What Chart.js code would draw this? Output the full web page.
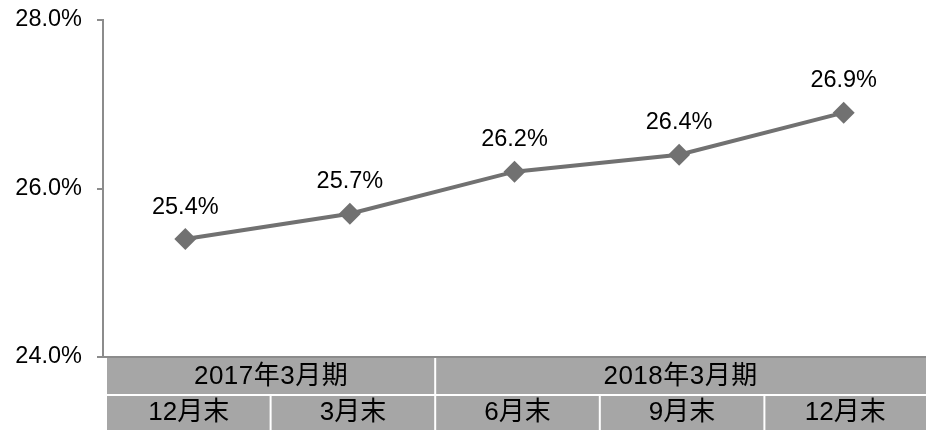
<!DOCTYPE html>
<html>
<head>
<meta charset="utf-8">
<script src="https://cdn.jsdelivr.net/npm/chart.js@4"></script>
<style>
  html, body { margin: 0; padding: 0; background: #fff; }
  #wrap { width: 926px; height: 430px; }
</style>
</head>
<body>
<div id="wrap"><canvas id="ratioChart" width="926" height="430"></canvas></div>
<script>
// quarter-end labels and the ratio (%) at each one
const months = ['12月末', '3月末', '6月末', '9月末', '12月末'];
const ratios = [25.4, 25.7, 26.2, 26.4, 26.9];
// fiscal periods and how many quarters each one spans
const periods = ['2017年3月期', '2018年3月期'];
const periodSpans = [2, 3];
const yTicks = [24, 26, 28];

const FONT = '"Liberation Sans", Arial, "Noto Sans CJK JP", sans-serif';
const AXIS_GREY = '#8c8c8c';
const CELL_GREY = '#a6a6a6';

// value labels above each diamond
const pointLabels = {
    id: 'pointLabels',
    afterDatasetsDraw(chart) {
        const ctx = chart.ctx;
        const meta = chart.getDatasetMeta(0);
        ctx.save();
        ctx.font = '23.5px ' + FONT;
        ctx.fillStyle = '#000';
        ctx.textAlign = 'center';
        ctx.textBaseline = 'middle';
        meta.data.forEach((pt, i) => {
            ctx.fillText(ratios[i].toFixed(1) + '%', pt.x, pt.y - 32);
        });
        ctx.restore();
    }
};

// two-row category table under the plot
const categoryTable = {
    id: 'categoryTable',
    afterDraw(chart) {
        const ctx = chart.ctx;
        const xs = chart.scales.x;
        const area = chart.chartArea;
        const step = xs.getPixelForValue(1) - xs.getPixelForValue(0);
        const edge = i => xs.getPixelForValue(i) - step / 2 + 3;
        const row1Top = area.bottom + 1;
        const row1H = 36;
        const row2Top = row1Top + row1H + 2;
        const row2H = chart.height - row2Top;

        ctx.save();
        // background cells
        ctx.fillStyle = CELL_GREY;
        ctx.fillRect(area.left + 4, row1Top, chart.width - area.left - 4, row1H);
        ctx.fillRect(area.left + 4, row2Top, chart.width - area.left - 4, row2H);

        // white separators
        ctx.fillStyle = '#fff';
        let acc = 0;
        periodSpans.forEach((span, k) => {
            acc += span;
            if (k < periodSpans.length - 1) {
                ctx.fillRect(edge(acc) - 1, row1Top, 2, row1H);
            }
        });
        for (let i = 1; i < months.length; i++) {
            ctx.fillRect(edge(i) - 1, row2Top, 2, row2H);
        }

        ctx.fillStyle = '#000';
        ctx.textAlign = 'center';
        ctx.textBaseline = 'middle';
        ctx.font = '26px ' + FONT;
        let start = 0;
        periods.forEach((p, k) => {
            const x0 = Math.max(edge(start), area.left + 4);
            const x1 = Math.min(edge(start + periodSpans[k]), chart.width);
            ctx.letterSpacing = '0.5px';
            ctx.fillText(p, (x0 + x1) / 2, row1Top + row1H / 2 + 1);
            start += periodSpans[k];
        });
        ctx.letterSpacing = '0px';
        months.forEach((m, i) => {
            const x0 = Math.max(edge(i), area.left + 4);
            const x1 = Math.min(edge(i + 1), chart.width);
            ctx.fillText(m, (x0 + x1) / 2, row2Top + 17);
        });

        // bottom axis line
        ctx.strokeStyle = AXIS_GREY;
        ctx.lineWidth = 2;
        ctx.beginPath();
        ctx.moveTo(area.left - 6, area.bottom);
        ctx.lineTo(chart.width, area.bottom);
        ctx.stroke();
        ctx.restore();
    }
};

new Chart(document.getElementById('ratioChart'), {
    type: 'line',
    data: {
        labels: months,
        datasets: [{
            data: ratios,
            borderColor: '#717171',
            backgroundColor: '#717171',
            borderWidth: 4,
            pointStyle: 'rectRot',
            pointRadius: 11,
            pointHoverRadius: 11,
            pointBorderWidth: 0,
            tension: 0,
            clip: false
        }]
    },
    options: {
        responsive: false,
        animation: false,
        events: [],
        layout: { autoPadding: false, padding: { top: 20, bottom: 73, right: -2, left: 0 } },
        plugins: {
            legend: { display: false },
            tooltip: { enabled: false }
        },
        scales: {
            x: {
                type: 'category',
                offset: true,
                display: false
            },
            y: {
                min: 24,
                max: 28,
                afterFit(scale) {
                    scale.width = 103;
                    scale.paddingTop = 0;
                    scale.paddingBottom = 0;
                },
                afterBuildTicks(scale) { scale.ticks = yTicks.map(v => ({ value: v })); },
                border: { display: true, color: AXIS_GREY, width: 2 },
                grid: {
                    drawOnChartArea: false,
                    drawTicks: true,
                    tickLength: 6,
                    color: AXIS_GREY,
                    lineWidth: 2
                },
                ticks: {
                    padding: 15,
                    color: '#000',
                    font: { family: FONT, size: 23.5 },
                    callback: v => v.toFixed(1) + '%'
                }
            }
        }
    },
    plugins: [pointLabels, categoryTable]
});
</script>
</body>
</html>
